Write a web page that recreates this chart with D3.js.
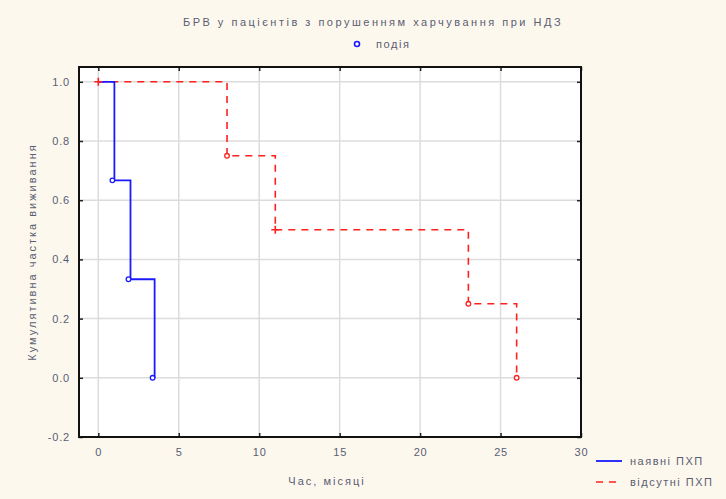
<!DOCTYPE html>
<html>
<head>
<meta charset="utf-8">
<script src="https://cdn.jsdelivr.net/npm/d3@7.9.0/dist/d3.min.js"></script>
<style>
  body { margin: 0; background: #fdf8ee; }
  svg { display: block; }
  text { font-family: "Liberation Sans", Arial, sans-serif; fill: #5a5d72; }
</style>
</head>
<body>
<svg id="chart" width="726" height="499"></svg>
<script>
// data
const xTicks = [0, 5, 10, 15, 20, 25, 30];
const yTicks = [-0.2, 0.0, 0.2, 0.4, 0.6, 0.8, 1.0];

// group 1: наявні ПХП (solid blue)
const presentTimes = [0, 1, 2, 3.5];
const presentSurv = [1, 0.667, 0.333, 0];

// group 2: відсутні ПХП (dashed red)
const absentTimes = [0, 8, 11, 23, 26];
const absentSurv = [1, 0.75, 0.5, 0.25, 0];
const absentMarks = ["plus", "circle", "plus", "circle", "circle"];

const titleText = "БРВ у  пацієнтів з порушенням харчування при НДЗ";
const eventLabel = "подія";
const xLabel = "Час, місяці";
const yLabel = "Кумулятивна частка виживання";
const seriesNames = ["наявні ПХП", "відсутні ПХП"];

const svg = d3.select("#chart");
const plotL = 79, plotR = 581, plotT = 67, plotB = 437;

const x = d3.scaleLinear().domain([-1.2, 30]).range([plotL, plotR]);
const y = d3.scaleLinear().domain([-0.2, 1.05]).range([plotB, plotT]);

// plot background
svg.append("rect")
  .attr("x", plotL).attr("y", plotT)
  .attr("width", plotR - plotL).attr("height", plotB - plotT)
  .attr("fill", "#ffffff");

// grid
svg.append("g").selectAll("line")
  .data(xTicks.slice(0, -1))
  .join("line")
  .attr("x1", d => x(d)).attr("x2", d => x(d))
  .attr("y1", plotT).attr("y2", plotB)
  .attr("stroke", "#dcdcdc").attr("stroke-width", 1.5);

svg.append("g").selectAll("line")
  .data(yTicks.slice(1))
  .join("line")
  .attr("x1", plotL).attr("x2", plotR)
  .attr("y1", d => y(d)).attr("y2", d => y(d))
  .attr("stroke", "#dcdcdc").attr("stroke-width", 1.5);

// axes
const fmtY = d => (Math.abs(d) < 1e-9 ? 0 : d).toFixed(1);
const xAxis = d3.axisBottom(x).tickValues(xTicks).tickSize(-4).tickPadding(11)
  .tickFormat(d3.format("d"));
const yAxis = d3.axisLeft(y).tickValues(yTicks).tickSize(-4).tickPadding(9)
  .tickFormat(fmtY);

const gx = svg.append("g").attr("transform", `translate(0,${plotB})`).call(xAxis);
const gy = svg.append("g").attr("transform", `translate(${plotL},0)`).call(yAxis);
svg.append("g").attr("transform", `translate(0,${plotT})`)
  .call(d3.axisTop(x).tickValues(xTicks).tickSize(-4).tickFormat(""));
svg.append("g").attr("transform", `translate(${plotR},0)`)
  .call(d3.axisRight(y).tickValues(yTicks).tickSize(-4).tickFormat(""));

svg.selectAll(".domain").remove();
svg.selectAll(".tick line").attr("stroke", "#222").attr("stroke-width", 1.5);
svg.selectAll(".tick text")
  .attr("font-size", 11)
  .attr("letter-spacing", 0.8)
  .attr("fill", "#5a5d72")
  .style("font-family", "'Liberation Sans', Arial, sans-serif");

// frame
svg.append("rect")
  .attr("x", plotL).attr("y", plotT)
  .attr("width", plotR - plotL).attr("height", plotB - plotT)
  .attr("fill", "none").attr("stroke", "#111").attr("stroke-width", 2);

// step curves
function stepPoints(times, surv) {
  const pts = [[times[0], surv[0]]];
  for (let i = 1; i < times.length; i++) {
    pts.push([times[i], surv[i - 1]]);
    pts.push([times[i], surv[i]]);
  }
  return pts;
}

const line = d3.line().x(d => x(d[0])).y(d => y(d[1]));

svg.append("path")
  .datum(stepPoints(absentTimes, absentSurv))
  .attr("d", line)
  .attr("fill", "none")
  .attr("stroke", "#ff2020")
  .attr("stroke-width", 1.6)
  .attr("stroke-dasharray", "7,6");

svg.append("path")
  .datum(stepPoints(presentTimes, presentSurv))
  .attr("d", line)
  .attr("fill", "none")
  .attr("stroke", "#1a1aff")
  .attr("stroke-width", 1.8);

// event markers
svg.append("g").selectAll("circle")
  .data(presentTimes.slice(1).map((t, i) => [t, presentSurv[i + 1]]))
  .join("circle")
  .attr("cx", d => x(d[0]) - 2).attr("cy", d => y(d[1]))
  .attr("r", 2.3)
  .attr("fill", "#fff").attr("stroke", "#1a1aff").attr("stroke-width", 1.3);

const redMarks = absentTimes.map((t, i) => ({ t, s: absentSurv[i], kind: absentMarks[i] }));

svg.append("g").selectAll("circle")
  .data(redMarks.filter(d => d.kind === "circle"))
  .join("circle")
  .attr("cx", d => x(d.t)).attr("cy", d => y(d.s))
  .attr("r", 2.3)
  .attr("fill", "#fff").attr("stroke", "#ff2020").attr("stroke-width", 1.3);

svg.append("g").selectAll("path")
  .data(redMarks.filter(d => d.kind === "plus"))
  .join("path")
  .attr("d", d => `M${x(d.t) - 4},${y(d.s)}h8M${x(d.t)},${y(d.s) - 4}v8`)
  .attr("stroke", "#ff2020").attr("stroke-width", 1.6);

// title and event legend
svg.append("text")
  .attr("x", 373).attr("y", 26)
  .attr("text-anchor", "middle")
  .attr("font-size", 11)
  .attr("letter-spacing", 2.5)
  .text(titleText);

svg.append("circle")
  .attr("cx", 357).attr("cy", 44).attr("r", 2.5)
  .attr("fill", "#fff").attr("stroke", "#1a1aff").attr("stroke-width", 1.6);
svg.append("text")
  .attr("x", 376).attr("y", 48)
  .attr("font-size", 11)
  .attr("letter-spacing", 1.6)
  .text(eventLabel);

// axis labels
svg.append("text")
  .attr("x", 327).attr("y", 485)
  .attr("text-anchor", "middle")
  .attr("font-size", 11)
  .attr("letter-spacing", 2)
  .text(xLabel);

svg.append("text")
  .attr("transform", `translate(36,252) rotate(-90)`)
  .attr("text-anchor", "middle")
  .attr("font-size", 11)
  .attr("letter-spacing", 2)
  .text(yLabel);

// series legend
const legend = svg.append("g");
const legendStyles = [
  { color: "#1a1aff", dash: null, width: 1.8 },
  { color: "#ff2020", dash: "7,6", width: 1.6 }
];
seriesNames.forEach((name, i) => {
  const ly = 461 + i * 21;
  legend.append("line")
    .attr("x1", 596).attr("x2", 622)
    .attr("y1", ly).attr("y2", ly)
    .attr("stroke", legendStyles[i].color)
    .attr("stroke-width", legendStyles[i].width)
    .attr("stroke-dasharray", legendStyles[i].dash);
  legend.append("text")
    .attr("x", 630).attr("y", ly + 4)
    .attr("font-size", 11)
    .attr("letter-spacing", 1.5)
    .text(name);
});
</script>
</body>
</html>
